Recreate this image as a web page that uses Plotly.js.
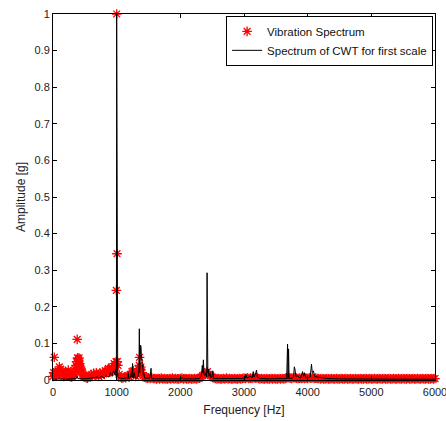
<!DOCTYPE html>
<html>
<head>
<meta charset="utf-8">
<script src="https://cdn.plot.ly/plotly-3.0.1.min.js"></script>
<style>html,body{margin:0;padding:0;background:#fff;}#chart{width:446px;height:421px;}</style>
</head>
<body>
<div id="chart"></div>
<script>
// Vibration spectrum (red stars): frequency [Hz] and amplitude [g], rows aligned
const vibFreq = [
  0,10,20,30,40,50,60,70,80,90,
  100,110,120,130,140,150,160,170,180,190,
  200,210,220,230,240,250,260,270,280,290,
  300,310,320,330,340,350,360,370,380,385,
  390,395,400,405,410,415,420,430,440,450,
  460,470,480,490,500,520,540,560,580,600,
  620,640,660,680,700,720,740,760,780,800,
  820,840,860,870,880,900,920,940,960,970,
  980,990,995,1000,1005,1010,1020,1040,1060,1080,
  1100,1120,1140,1160,1180,1200,1220,1240,1260,1280,
  1300,1320,1340,1355,1360,1370,1380,1400,1420,1440,
  1460,1480,1500,1525,1550,1575,1600,
  1625,1650,1675,1700,1725,1750,1775,1800,
  1825,1850,1875,1900,1925,1950,1975,2000,
  2025,2050,2075,2100,2125,2150,2175,2200,
  2225,2250,2275,2300,2325,2350,2375,2400,
  2425,2450,2475,2500,2525,2550,2575,2600,
  2625,2650,2675,2700,2725,2750,2775,2800,
  2825,2850,2875,2900,2925,2950,2975,3000,
  3025,3050,3075,3100,3125,3150,3175,3200,
  3225,3250,3275,3300,3325,3350,3375,3400,
  3425,3450,3475,3500,3525,3550,3575,3600,
  3625,3650,3675,3700,3725,3750,3775,3800,
  3825,3850,3875,3900,3925,3950,3975,4000,
  4025,4050,4075,4100,4125,4150,4175,4200,
  4225,4250,4275,4300,4325,4350,4375,4400,
  4425,4450,4475,4500,4525,4550,4575,4600,
  4625,4650,4675,4700,4725,4750,4775,4800,
  4825,4850,4875,4900,4925,4950,4975,5000,
  5025,5050,5075,5100,5125,5150,5175,5200,
  5225,5250,5275,5300,5325,5350,5375,5400,
  5425,5450,5475,5500,5525,5550,5575,5600,
  5625,5650,5675,5700,5725,5750,5775,5800,
  5825,5850,5875,5900,5925,5950,5975,6000
];
const vibAmp = [
  0.010,0.020,0.062,0.018,0.020,0.012,0.015,0.020,0.025,0.018,
  0.036,0.025,0.030,0.022,0.020,0.015,0.015,0.010,0.012,0.016,
  0.020,0.018,0.015,0.020,0.027,0.015,0.018,0.010,0.012,0.008,
  0.010,0.012,0.015,0.020,0.025,0.030,0.040,0.050,0.111,0.060,
  0.060,0.045,0.055,0.050,0.060,0.040,0.045,0.035,0.030,0.025,
  0.020,0.015,0.012,0.010,0.008,0.006,0.005,0.008,0.012,0.015,
  0.010,0.018,0.012,0.020,0.015,0.010,0.018,0.012,0.022,0.018,
  0.025,0.020,0.028,0.032,0.025,0.022,0.035,0.030,0.045,0.035,
  0.040,0.050,0.245,1.000,0.345,0.050,0.040,0.015,0.008,0.005,
  0.006,0.008,0.006,0.010,0.012,0.008,0.015,0.023,0.025,0.020,
  0.010,0.015,0.030,0.040,0.062,0.030,0.035,0.020,0.012,0.008,
  0.006,0.005,0.006,0.004,0.006,0.004,0.004,
  0.003,0.004,0.003,0.005,0.003,0.004,0.003,0.003,
  0.004,0.003,0.005,0.003,0.004,0.003,0.003,0.004,
  0.005,0.003,0.004,0.003,0.003,0.004,0.003,0.003,
  0.004,0.003,0.004,0.005,0.008,0.012,0.015,0.018,
  0.023,0.015,0.012,0.008,0.006,0.004,0.003,0.004,
  0.003,0.003,0.004,0.003,0.005,0.003,0.004,0.003,
  0.003,0.004,0.003,0.003,0.004,0.003,0.004,0.005,
  0.004,0.006,0.004,0.005,0.004,0.006,0.005,0.006,
  0.004,0.003,0.004,0.003,0.003,0.004,0.003,0.003,
  0.004,0.003,0.004,0.003,0.003,0.004,0.003,0.004,
  0.003,0.004,0.006,0.008,0.005,0.004,0.006,0.006,
  0.005,0.004,0.005,0.004,0.005,0.004,0.005,0.004,
  0.006,0.005,0.006,0.004,0.005,0.004,0.004,0.003,
  0.004,0.003,0.003,0.004,0.003,0.003,0.004,0.003,
  0.003,0.004,0.003,0.003,0.004,0.003,0.003,0.004,
  0.003,0.003,0.004,0.003,0.003,0.004,0.003,0.003,
  0.004,0.003,0.003,0.004,0.003,0.003,0.004,0.003,
  0.003,0.004,0.003,0.003,0.004,0.003,0.003,0.004,
  0.003,0.003,0.004,0.003,0.003,0.004,0.003,0.003,
  0.004,0.003,0.003,0.004,0.003,0.003,0.004,0.003,
  0.003,0.004,0.003,0.003,0.004,0.003,0.003,0.004,
  0.003,0.003,0.004,0.003,0.003,0.004,0.003,0.004
];

// Spectrum of CWT for first scale (black line)
const cwtFreq = [0,40,80,120,200,300,360,375,382,390,450,550,650,700,720,760,800,840,880,900,930,950,970,985,992,996,1000,1004,1008,1012,1016,1030,1060,1100,1150,1175,1182,1190,1220,1232,1240,1250,1258,1270,1280,1290,1310,1330,1342,1350,1356,1362,1370,1376,1382,1388,1394,1400,1406,1412,1418,1425,1440,1480,1520,1540,1548,1600,1800,2000,2030,2040,2050,2200,2300,2330,2345,2355,2362,2372,2390,2405,2414,2420,2426,2432,2440,2450,2465,2480,2495,2510,2520,2600,2800,2950,3020,3030,3045,3080,3110,3130,3145,3158,3170,3185,3197,3210,3250,3400,3600,3670,3684,3692,3700,3708,3760,3780,3790,3800,3815,3840,3860,3890,3920,3935,3950,3970,4000,4040,4060,4072,4090,4110,4150,4200,4250,4300,4500,5000,5500,6000];
const cwtAmp = [0.002,0.003,0.002,0.003,0.002,0.003,0.004,0.006,0.010,0.004,0.003,0.004,0.006,0.008,0.005,0.010,0.006,0.012,0.008,0.020,0.010,0.025,0.015,0.030,0.010,0.040,1.000,0.620,0.020,0.170,0.010,0.006,0.005,0.004,0.006,0.004,0.020,0.004,0.008,0.020,0.008,0.045,0.006,0.015,0.020,0.006,0.004,0.008,0.015,0.030,0.140,0.020,0.060,0.095,0.090,0.070,0.050,0.060,0.035,0.040,0.015,0.020,0.005,0.004,0.005,0.032,0.004,0.003,0.003,0.003,0.006,0.005,0.003,0.003,0.004,0.010,0.040,0.020,0.055,0.015,0.012,0.020,0.008,0.293,0.164,0.020,0.030,0.010,0.020,0.006,0.008,0.025,0.004,0.004,0.003,0.004,0.005,0.015,0.006,0.008,0.010,0.006,0.023,0.008,0.012,0.020,0.027,0.008,0.004,0.003,0.004,0.004,0.098,0.004,0.085,0.004,0.005,0.010,0.036,0.030,0.010,0.012,0.008,0.005,0.023,0.010,0.020,0.006,0.006,0.008,0.043,0.020,0.025,0.010,0.008,0.006,0.005,0.004,0.003,0.002,0.002,0.002,0.002];

const xTicks = [0,1000,2000,3000,4000,5000,6000];
const yTicks = [0,0.1,0.2,0.3,0.4,0.5,0.6,0.7,0.8,0.9,1];

const fontFam = '"Liberation Sans", Arial, sans-serif';
const traces = [
  {
    x: vibFreq, y: vibAmp, type: 'scatter', mode: 'markers',
    name: 'Vibration Spectrum',
    cliponaxis: false,
    marker: {symbol: 'asterisk-open', size: 8, color: '#ff0000', line: {color: '#ff1010', width: 1.3}}
  },
  {
    x: cwtFreq, y: cwtAmp, type: 'scatter', mode: 'lines',
    name: 'Spectrum of CWT for first scale',
    line: {color: '#000000', width: 1}
  }
];
const axisCommon = {
  showline: true, linecolor: '#000', linewidth: 1, mirror: 'ticks',
  ticks: 'inside', ticklen: 4, tickcolor: '#000', showgrid: false, zeroline: false,
  automargin: false, ticklabeloverflow: 'allow',
  tickfont: {family: fontFam, size: 11, color: '#222'}
};
const layout = {
  width: 446, height: 421,
  margin: {l: 53, r: 11, t: 14, b: 41},
  paper_bgcolor: '#fff', plot_bgcolor: '#fff',
  showlegend: true,
  legend: {
    x: 0.995, y: 0.995, xanchor: 'right', yanchor: 'top',
    bgcolor: '#fff', bordercolor: '#000', borderwidth: 1,
    font: {family: fontFam, size: 11.5, color: '#111'},
    tracegroupgap: 0
  },
  xaxis: Object.assign({}, axisCommon, {
    range: [0, 6000], tickvals: xTicks, ticktext: xTicks.map(String),
    ticklabelstandoff: 2,
    title: {text: 'Frequency [Hz]', font: {family: fontFam, size: 12, color: '#222'}, standoff: 8}
  }),
  yaxis: Object.assign({}, axisCommon, {
    range: [0, 1], tickvals: yTicks, ticktext: yTicks.map(String),
    title: {text: 'Amplitude [g]', font: {family: fontFam, size: 12, color: '#222'}, standoff: 6}
  })
};
Plotly.newPlot('chart', traces, layout, {displayModeBar: false, staticPlot: true});
</script>
</body>
</html>
